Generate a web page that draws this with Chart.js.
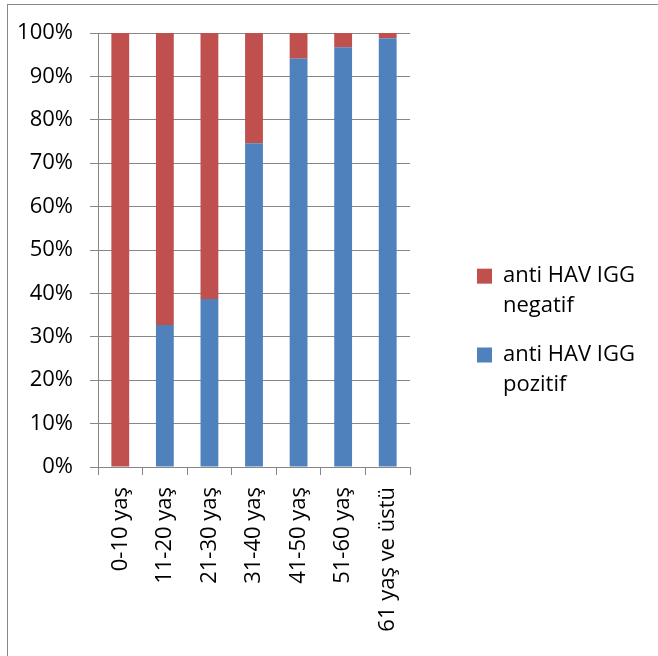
<!DOCTYPE html>
<html>
<head>
<meta charset="utf-8">
<script src="https://cdn.jsdelivr.net/npm/chart.js@4"></script>
<style>
  body { margin: 0; background: #fff; overflow: hidden; }
  #frame { position: absolute; left: 7px; top: 4px; width: 700px; height: 700px; border: 1px solid #888; }
  #wrap { position: absolute; left: 0; top: 0; width: 658px; height: 656px; }
</style>
</head>
<body>
<div id="frame"></div>
<div id="wrap"><canvas id="myChart"></canvas></div>
<script>
// age groups
var categories = ['0-10 yaş', '11-20 yaş', '21-30 yaş', '31-40 yaş', '41-50 yaş', '51-60 yaş', '61 yaş ve üstü'];
// percent of each group
var pozitif = [0, 32.7, 38.7, 74.6, 94.1, 96.7, 98.8];
var negatif = [100, 67.3, 61.3, 25.4, 5.9, 3.3, 1.2];
var seriesNames = ['anti HAV IGG pozitif', 'anti HAV IGG negatif'];
var yTicks = [0, 10, 20, 30, 40, 50, 60, 70, 80, 90, 100];

var gridGray = '#868686';
var font = 'Open Sans';

// legend measures two-line labels badly, so fix its width
var legendWidth = {
  id: 'legendWidth',
  afterInit: function(chart) {
    var lg = chart.legend;
    var fit = lg.fit;
    lg.fit = function() {
      fit.apply(this, arguments);
      this.width = 190;
    };
  }
};

var ctx = document.getElementById('myChart').getContext('2d');
var myChart = new Chart(ctx, {
  type: 'bar',
  data: {
    labels: categories,
    datasets: [{
      label: seriesNames[0],
      data: pozitif,
      backgroundColor: '#4F81BD',
      barPercentage: 0.4,
      categoryPercentage: 1.0
    }, {
      label: seriesNames[1],
      data: negatif,
      backgroundColor: '#C0504D',
      barPercentage: 0.4,
      categoryPercentage: 1.0
    }]
  },
  plugins: [legendWidth],
  options: {
    responsive: true,
    maintainAspectRatio: false,
    animation: false,
    layout: { padding: { top: 33, left: 0, right: 10, bottom: 20 } },
    scales: {
      x: {
        stacked: true,
        grid: { display: true, drawOnChartArea: false, offset: true, color: gridGray, tickLength: 8 },
        border: { color: gridGray },
        ticks: { color: '#000', font: { family: font, size: 22 }, minRotation: 90, maxRotation: 90, padding: 12, autoSkip: false },
        afterFit: function(s) { s.height = 169; }
      },
      y: {
        stacked: true,
        min: 0,
        max: 100,
        afterBuildTicks: function(s) { s.ticks = yTicks.map(function(v) { return { value: v }; }); },
        grid: { color: gridGray, tickLength: 8 },
        border: { color: gridGray },
        ticks: {
          color: '#000',
          font: { family: font, size: 22 },
          padding: 17,
          callback: function(v) { return v + '%'; }
        },
        afterFit: function(s) { s.width = 98; }
      },
      // spacer between plot and legend
      gap: {
        position: 'right',
        display: true,
        grid: { display: false },
        border: { display: false },
        ticks: { display: false },
        afterFit: function(s) { s.width = 48; }
      }
    },
    plugins: {
      tooltip: { enabled: false },
      legend: {
        position: 'right',
        reverse: true,
        labels: {
          color: '#000',
          boxWidth: 15,
          boxHeight: 15,
          padding: 19,
          font: { family: font, size: 22, lineHeight: 1.36 },
          generateLabels: function(chart) {
            var items = Chart.defaults.plugins.legend.labels.generateLabels(chart);
            items.forEach(function(it) {
              var w = it.text.split(' ');
              it.text = [w.slice(0, 3).join(' '), w.slice(3).join(' ')];
              it.lineWidth = 0;
            });
            return items;
          }
        }
      }
    }
  }
});
</script>
</body>
</html>
